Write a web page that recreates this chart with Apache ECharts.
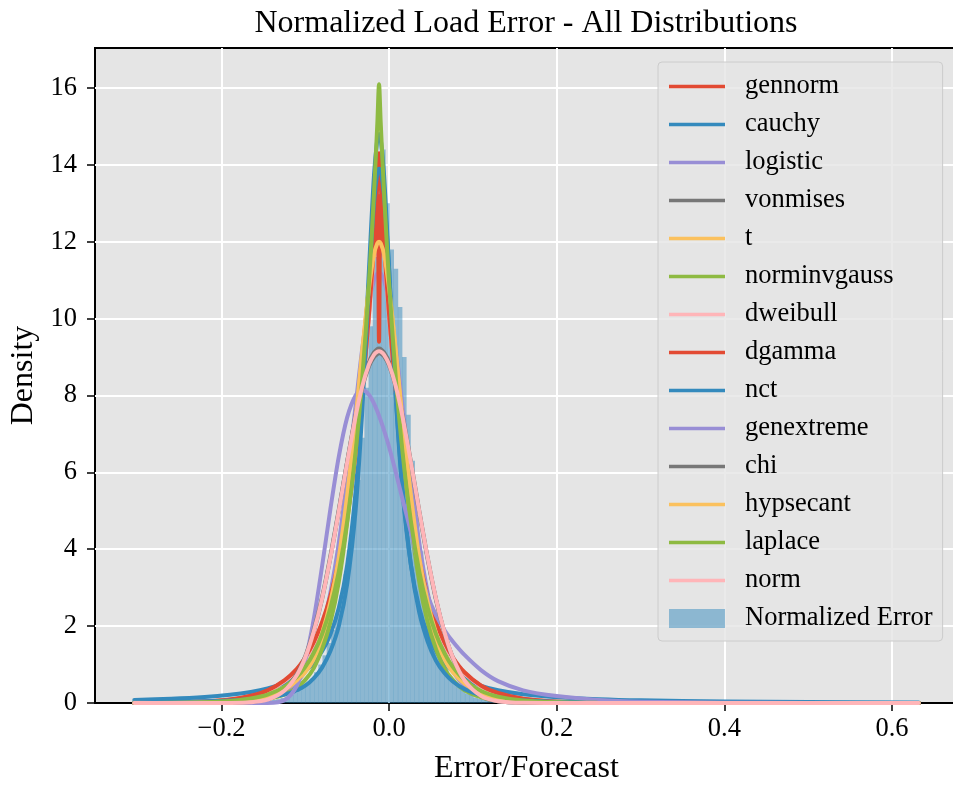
<!DOCTYPE html>
<html><head><meta charset="utf-8">
<script src="https://cdn.jsdelivr.net/npm/echarts@6/dist/echarts.min.js"></script>
<style>html,body{margin:0;padding:0;background:#fff}#c{width:953px;height:787px}</style>
</head><body><div id="c"></div>
<script>
// shared x positions of the fitted curves
const xGrid = [-0.304, -0.26, -0.22, -0.19, -0.165, -0.145, -0.125, -0.11, -0.1, -0.09, -0.08, -0.07, -0.06, -0.05, -0.04, -0.032, -0.024, -0.018, -0.014, -0.012, -0.01, -0.006, 0.0, 0.008, 0.016, 0.026, 0.036, 0.046, 0.056, 0.066, 0.076, 0.09, 0.11, 0.13, 0.16, 0.2, 0.25, 0.3, 0.4, 0.5, 0.632];

const gennorm      = [0.003, 0.012, 0.037, 0.088, 0.18, 0.32, 0.57, 0.87, 1.16, 1.54, 2.05, 2.73, 3.63, 4.83, 6.43, 8.08, 10.15, 12.05, 13.5, 14.3, 13.5, 12.05, 10.15, 8.08, 6.43, 4.83, 3.63, 2.73, 2.05, 1.54, 1.16, 0.78, 0.44, 0.25, 0.105, 0.033, 0.008, 0.002, 0, 0, 0];
const cauchy       = [0.079, 0.11, 0.156, 0.213, 0.287, 0.377, 0.517, 0.68, 0.834, 1.045, 1.345, 1.79, 2.47, 3.59, 5.49, 7.94, 11.28, 13.73, 14.67, 14.8, 14.67, 13.73, 11.28, 7.94, 5.49, 3.59, 2.47, 1.79, 1.345, 1.045, 0.834, 0.63, 0.446, 0.332, 0.228, 0.151, 0.099, 0.07, 0.04, 0.026, 0.016];
const logistic     = [0, 0.001, 0.004, 0.015, 0.047, 0.113, 0.28, 0.54, 0.83, 1.28, 1.93, 2.88, 4.17, 5.84, 7.73, 9.22, 10.43, 11.0, 11.18, 11.2, 11.18, 11.0, 10.43, 9.22, 7.73, 5.84, 4.17, 2.88, 1.93, 1.28, 0.83, 0.45, 0.19, 0.077, 0.02, 0.003, 0, 0, 0, 0, 0];
const vonmises     = [0, 0, 0, 0.002, 0.018, 0.085, 0.31, 0.72, 1.18, 1.84, 2.70, 3.78, 5.00, 6.28, 7.49, 8.29, 8.87, 9.12, 9.21, 9.22, 9.21, 9.12, 8.87, 8.29, 7.49, 6.28, 5.00, 3.78, 2.70, 1.84, 1.18, 0.58, 0.17, 0.044, 0.004, 0, 0, 0, 0, 0, 0];
const tDist        = [0.011, 0.021, 0.041, 0.074, 0.128, 0.21, 0.366, 0.58, 0.80, 1.13, 1.63, 2.38, 3.49, 5.09, 7.21, 9.11, 10.82, 11.69, 11.96, 12.0, 11.96, 11.69, 10.82, 9.11, 7.21, 5.09, 3.49, 2.38, 1.63, 1.13, 0.80, 0.51, 0.28, 0.167, 0.084, 0.039, 0.017, 0.0088, 0.003, 0.0012, 0.0005];
const norminvgauss = [0.001, 0.003, 0.01, 0.025, 0.055, 0.11, 0.22, 0.4, 0.6, 0.9, 1.4, 2.1, 3.15, 4.7, 6.8, 8.9, 10.9, 12.2, 12.72, 12.8, 12.72, 12.2, 10.9, 8.9, 6.8, 4.7, 3.15, 2.1, 1.4, 0.9, 0.6, 0.33, 0.15, 0.065, 0.02, 0.005, 0.001, 0, 0, 0, 0];
const dweibull     = [0.002, 0.01, 0.033, 0.08, 0.17, 0.31, 0.56, 0.86, 1.15, 1.53, 2.05, 2.74, 3.65, 4.87, 6.45, 8.1, 10.05, 11.8, 13.0, 12.6, 13.0, 11.8, 10.05, 8.1, 6.45, 4.87, 3.65, 2.74, 2.05, 1.53, 1.15, 0.77, 0.43, 0.24, 0.1, 0.03, 0.007, 0.002, 0, 0, 0];
const dgamma       = [0.003, 0.012, 0.04, 0.09, 0.19, 0.33, 0.59, 0.89, 1.19, 1.58, 2.1, 2.79, 3.7, 4.9, 6.5, 8.1, 10.1, 11.9, 13.2, 9.4, 13.2, 11.9, 10.1, 8.1, 6.5, 4.9, 3.7, 2.79, 2.1, 1.58, 1.19, 0.8, 0.45, 0.26, 0.11, 0.035, 0.009, 0.002, 0, 0, 0];
const nct          = [0.02, 0.03, 0.045, 0.065, 0.095, 0.14, 0.22, 0.33, 0.45, 0.64, 0.92, 1.35, 2.0, 3.1, 5.0, 7.6, 10.9, 13.0, 13.8, 13.9, 13.85, 13.2, 11.3, 8.0, 5.6, 3.6, 2.35, 1.6, 1.1, 0.78, 0.56, 0.36, 0.2, 0.12, 0.065, 0.035, 0.018, 0.01, 0.004, 0.002, 0.001];
const genextreme   = [0, 0, 0, 0, 0, 0.001, 0.07, 0.45, 1.11, 2.17, 3.55, 5.05, 6.41, 7.43, 8.00, 8.14, 8.02, 7.79, 7.59, 7.47, 7.35, 7.09, 6.66, 6.0, 5.3, 4.45, 3.55, 2.8, 2.28, 1.9, 1.6, 1.25, 0.85, 0.57, 0.33, 0.18, 0.08, 0.035, 0.008, 0.002, 0];
const chi          = [0, 0, 0, 0.003, 0.025, 0.10, 0.35, 0.76, 1.22, 1.89, 2.75, 3.83, 5.03, 6.28, 7.45, 8.21, 8.76, 9.0, 9.08, 9.1, 9.09, 9.02, 8.78, 8.22, 7.42, 6.22, 4.95, 3.74, 2.68, 1.83, 1.18, 0.59, 0.19, 0.05, 0.005, 0, 0, 0, 0, 0, 0];
const hypsecant    = [0, 0.002, 0.01, 0.029, 0.075, 0.16, 0.34, 0.59, 0.86, 1.25, 1.82, 2.63, 3.78, 5.41, 7.38, 9.17, 10.78, 11.68, 11.96, 12.0, 11.96, 11.68, 10.78, 9.17, 7.38, 5.41, 3.78, 2.63, 1.82, 1.25, 0.86, 0.51, 0.24, 0.11, 0.036, 0.008, 0.001, 0, 0, 0, 0];
const laplace      = [0.001, 0.005, 0.02, 0.05, 0.12, 0.22, 0.42, 0.68, 0.94, 1.30, 1.79, 2.48, 3.42, 4.73, 6.53, 8.45, 10.93, 13.27, 15.09, 16.1, 15.09, 13.27, 10.93, 8.45, 6.53, 4.73, 3.42, 2.48, 1.79, 1.30, 0.94, 0.60, 0.31, 0.165, 0.063, 0.017, 0.003, 0.001, 0, 0, 0];
const norm         = [0, 0, 0, 0.002, 0.019, 0.087, 0.32, 0.73, 1.19, 1.85, 2.71, 3.78, 4.99, 6.26, 7.45, 8.24, 8.81, 9.06, 9.14, 9.15, 9.14, 9.06, 8.81, 8.24, 7.45, 6.26, 4.99, 3.78, 2.71, 1.85, 1.19, 0.59, 0.18, 0.046, 0.004, 0, 0, 0, 0, 0, 0];

// histogram (bin centres, bin width 0.005)
const histCenters = [-0.152, -0.147, -0.142, -0.137, -0.132, -0.127, -0.122, -0.117, -0.112, -0.107, -0.102, -0.097, -0.092, -0.087, -0.082, -0.077, -0.072, -0.067, -0.062, -0.057, -0.052, -0.047, -0.042, -0.037, -0.032, -0.027, -0.022, -0.017, -0.012, -0.007, -0.002, 0.003, 0.008, 0.013, 0.018, 0.023, 0.028, 0.033, 0.038, 0.043, 0.048, 0.053, 0.058, 0.063, 0.068, 0.073, 0.078, 0.083, 0.088, 0.093, 0.098, 0.103, 0.108, 0.113, 0.118, 0.123, 0.128, 0.133];
const histHeights = [0.04, 0.05, 0.06, 0.08, 0.1, 0.13, 0.16, 0.21, 0.26, 0.33, 0.41, 0.5, 0.63, 0.8, 1.0, 1.24, 1.56, 1.9, 2.32, 2.8, 3.35, 4.0, 4.8, 5.8, 6.9, 8.2, 9.8, 11.6, 13.5, 14.4, 13.0, 11.8, 11.3, 10.3, 9.0, 7.5, 6.3, 4.9, 3.95, 3.05, 2.45, 1.85, 1.52, 1.12, 0.92, 0.68, 0.56, 0.42, 0.34, 0.25, 0.21, 0.14, 0.11, 0.08, 0.06, 0.04, 0.03, 0.02, 0.015];
const histBinWidth = 0.005;

const xTicks = [-0.2, 0.0, 0.2, 0.4, 0.6];

const curveNames = ['gennorm','cauchy','logistic','vonmises','t','norminvgauss','dweibull','dgamma','nct','genextreme','chi','hypsecant','laplace','norm'];
const curveData = [gennorm, cauchy, logistic, vonmises, tDist, norminvgauss, dweibull, dgamma, nct, genextreme, chi, hypsecant, laplace, norm];
const palette = ['#E24A33','#348ABD','#988ED5','#777777','#FBC15E','#8EBA42','#FFB5B8'];

const FONT = 'Liberation Serif';
const LINE_ICON = 'path://M0,0 H56 V3.6 H0 Z';
const chart = echarts.init(document.getElementById('c'), null, {renderer:'canvas'});

const series = [{
  name: 'Normalized Error',
  type: 'custom',
  z: 1,
  data: histCenters.map((c, i) => [c, histHeights[i]]),
  itemStyle: {color: 'rgba(52,138,189,0.5)'},
  renderItem: function (params, api) {
    const c = api.value(0), h = api.value(1);
    const p0 = api.coord([c - histBinWidth / 2, h]);
    const p1 = api.coord([c + histBinWidth / 2, 0]);
    return {
      type: 'rect',
      shape: {x: p0[0], y: p0[1], width: p1[0] - p0[0] + 0.3, height: p1[1] - p0[1]},
      style: {fill: 'rgba(52,138,189,0.5)'}
    };
  },
  animation: false
}];
curveNames.forEach((n, k) => {
  const col = palette[k % palette.length];
  series.push({
    name: n, type: 'line', z: 3,
    data: xGrid.map((x, i) => [x, curveData[k][i]]),
    symbol: 'none', showSymbol: false, smooth: 0.3,
    lineStyle: {width: 4, color: col, cap: 'round', join: 'round'}, itemStyle: {color: col},
    emphasis: {disabled: true},
    animation: false
  });
});

chart.setOption({
  backgroundColor: '#ffffff',
  animation: false,
  title: {
    text: 'Normalized Load Error - All Distributions',
    left: 526, top: 8, textAlign: 'center', padding: 0,
    textStyle: {fontFamily: FONT, fontSize: 32, fontWeight: 'normal', color: '#000'}
  },
  grid: {
    left: 95, top: 48, right: -5, bottom: 84,
    show: true, backgroundColor: '#E5E5E5', borderColor: '#000', borderWidth: 2,
    outerBoundsMode: 'none', containLabel: false
  },
  legend: {
    orient: 'vertical', left: 658, top: 62,
    padding: [11, 10, 9, 11],
    itemWidth: 56, itemHeight: 19, itemGap: 11,
    symbolKeepAspect: true,
    backgroundColor: 'rgba(229,229,229,0.8)', borderColor: '#cccccc', borderWidth: 1, borderRadius: 4,
    textStyle: {fontFamily: FONT, fontSize: 26.5, color: '#000', lineHeight: 26, padding: [0, 0, 0, 15]},
    data: curveNames.map(n => ({name: n, icon: LINE_ICON})).concat([{name: 'Normalized Error', icon: 'rect'}])
  },
  xAxis: {
    type: 'value', min: -0.3509, max: 0.6788,
    name: 'Error/Forecast', nameLocation: 'middle', nameGap: 50,
    nameTextStyle: {fontFamily: FONT, fontSize: 32, color: '#000'},
    axisLine: {show: false, onZero: false},
    axisTick: {show: true, length: 8, lineStyle: {color: '#000', width: 1.5}, customValues: xTicks},
    axisLabel: {
      fontFamily: FONT, fontSize: 26.5, color: '#000', margin: 13, customValues: xTicks,
      formatter: v => (v < 0 ? '\u2212' : '') + Math.abs(v).toFixed(1)
    },
    splitLine: {show: true, lineStyle: {color: '#ffffff', width: 2}}
  },
  yAxis: {
    type: 'value', min: 0, max: 17.04, interval: 2,
    name: 'Density', nameLocation: 'middle', nameGap: 55,
    nameTextStyle: {fontFamily: FONT, fontSize: 32, color: '#000'},
    axisLine: {show: false, onZero: false},
    axisTick: {show: true, length: 8, lineStyle: {color: '#000', width: 1.5}},
    axisLabel: {fontFamily: FONT, fontSize: 26.5, color: '#000', margin: 18, showMaxLabel: false,
      formatter: v => String(Math.round(v))},
    splitLine: {show: true, showMaxLine: false, showMinLine: false, lineStyle: {color: '#ffffff', width: 2}}
  },
  series: series
});
</script>
</body></html>
